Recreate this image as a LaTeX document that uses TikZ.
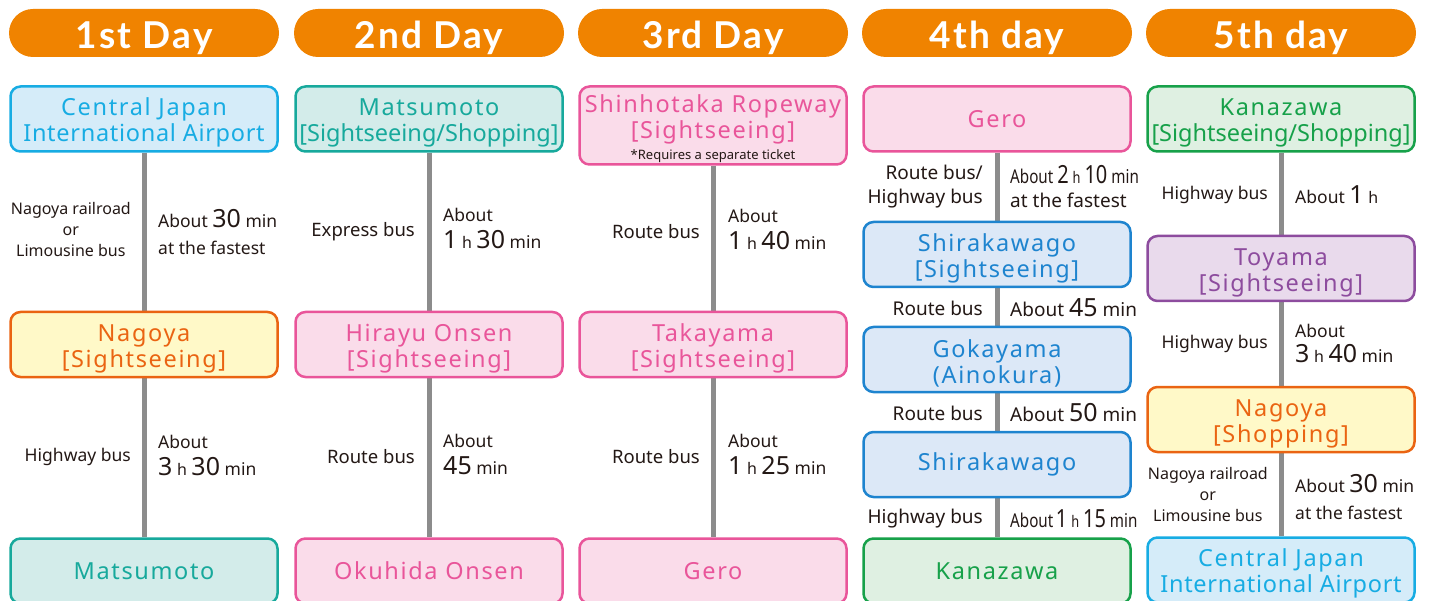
\documentclass[tikz,border=0pt]{standalone}
\usepackage{graphicx}
\usepackage{fontspec}
\setmainfont{Noto Sans}
\newfontfamily\boxf[LetterSpace=7]{Noto Sans}
\newfontfamily\boxm[LetterSpace=3]{Noto Sans}
\newfontfamily\boxn[LetterSpace=0]{Noto Sans}
\newfontfamily\headf[LetterSpace=6]{Lato}
\usetikzlibrary{backgrounds}
\definecolor{hdrc}{HTML}{F08300}
\definecolor{cyanB}{HTML}{17ACE3}\definecolor{cyanF}{HTML}{D5ECF9}
\definecolor{yelB}{HTML}{EA6412}\definecolor{yelF}{HTML}{FFF9C8}
\definecolor{tealB}{HTML}{17A99C}\definecolor{tealF}{HTML}{D3ECEA}
\definecolor{pinkB}{HTML}{E9559A}\definecolor{pinkF}{HTML}{FADCEA}
\definecolor{bluB}{HTML}{1E84CF}\definecolor{bluF}{HTML}{DCE8F7}
\definecolor{grnB}{HTML}{17A14A}\definecolor{grnF}{HTML}{DFF0E2}
\definecolor{purB}{HTML}{8D4C9E}\definecolor{purF}{HTML}{E9DAEC}
\definecolor{lineg}{HTML}{8C8C8C}
\definecolor{txt}{HTML}{231815}
\newcommand\bignum[1]{{\fontsize{25}{25}\selectfont #1}}
\newcommand\hunit{{\fontsize{16}{16}\selectfont h}}
\newcommand\sqz[1]{\scalebox{0.8}[1]{#1}}
\newcommand\bxs{\rule{0pt}{25pt}}
\tikzset{
  hdr/.style={fill=hdrc, rounded corners=24pt, minimum width=270pt, minimum height=48pt,
    text=white, font=\headf\bfseries\fontsize{37}{37}\selectfont, inner sep=0pt,
    text height=32pt, text depth=0pt},
  box/.style={rounded corners=10pt, line width=2.5pt, minimum width=267pt, minimum height=65pt,
    align=center, inner sep=0pt, font=\boxf\fontsize{23.5}{26}\selectfont},
  cyanbox/.style={box, draw=cyanB, fill=cyanF, text=cyanB},
  yelbox/.style={box, draw=yelB, fill=yelF, text=yelB},
  tealbox/.style={box, draw=tealB, fill=tealF, text=tealB},
  pinkbox/.style={box, draw=pinkB, fill=pinkF, text=pinkB},
  blubox/.style={box, draw=bluB, fill=bluF, text=bluB},
  grnbox/.style={box, draw=grnB, fill=grnF, text=grnB},
  purbox/.style={box, draw=purB, fill=purF, text=purB},
  conn/.style={line width=5pt, draw=lineg},
  lbl/.style={text=txt, inner sep=0pt, font=\fontsize{17.5}{27}\selectfont},
  lleft/.style={lbl, anchor=east, align=right},
  lright/.style={lbl, anchor=west, align=left},
  lmid/.style={font=\fontsize{18.5}{24}\selectfont},
  lbig/.style={font=\fontsize{19}{24}\selectfont},
  lsmall/.style={font=\fontsize{16}{21}\selectfont, align=center},
}
\begin{document}
\begin{tikzpicture}[x=1pt,y=-1pt]
\useasboundingbox (0,0) rectangle (1429,601);
\clip (0,0) rectangle (1429,601);
% headers
\node[hdr] (H1) at (144,33) {1st Day};
\node[hdr] (H2) at (429,33) {2nd Day};
\node[hdr] (H3) at (713,33) {3rd Day};
\node[hdr] (H4) at (997,33) {4th day};
\node[hdr] (H5) at (1281,33) {5th day};
% column 1
\node[cyanbox] (A1) at (144,119) {\bxs Central Japan\\{\boxm International Airport}};
\node[yelbox] (A2) at (144,344.5) {\bxs Nagoya\\{}[Sightseeing]};
\node[tealbox] (A3) at (144,571) {Matsumoto};
% column 2
\node[tealbox] (B1) at (429,119) {\bxs Matsumoto\\{\boxn [Sightseeing/Shopping]}};
\node[pinkbox] (B2) at (429,344.5) {\bxs Hirayu Onsen\\{}[Sightseeing]};
\node[pinkbox] (B3) at (429,571) {Okuhida Onsen};
% column 3
\node[pinkbox, minimum height=78pt] (C1) at (713,125.5) {\bxs Shinhotaka Ropeway\\{}[Sightseeing]\\[-5pt]{\rmfamily\color{txt}\fontsize{13}{14}\selectfont *Requires a separate ticket}};
\node[pinkbox] (C2) at (713,344.5) {\bxs Takayama\\{}[Sightseeing]};
\node[pinkbox] (C3) at (713,571) {Gero};
% column 4
\node[pinkbox] (D1) at (997,119) {Gero};
\node[blubox] (D2) at (997,254.5) {\bxs Shirakawago\\{}[Sightseeing]};
\node[blubox] (D3) at (997,359.5) {\bxs Gokayama\\(Ainokura)};
\node[blubox] (D4) at (997,464.5) {Shirakawago};
\node[grnbox] (D5) at (997,571) {Kanazawa};
% column 5
\node[grnbox] (E1) at (1281,119) {\bxs Kanazawa\\{\boxn [Sightseeing/Shopping]}};
\node[purbox] (E2) at (1281,268.5) {\bxs Toyama\\{}[Sightseeing]};
\node[yelbox] (E3) at (1281,419.5) {\bxs Nagoya\\{}[Shopping]};
\node[cyanbox] (E4) at (1281,570) {\bxs Central Japan\\{\boxm International Airport}};
% connectors
\begin{pgfonlayer}{background}
\draw[conn] (A1.south) -- (A2.north);
\draw[conn] (A2.south) -- (A3.north);
\draw[conn] (B1.south) -- (B2.north);
\draw[conn] (B2.south) -- (B3.north);
\draw[conn] (C1.south) -- (C2.north);
\draw[conn] (C2.south) -- (C3.north);
\draw[conn] (D1.south) -- (D2.north);
\draw[conn] (D2.south) -- (D3.north);
\draw[conn] (D3.south) -- (D4.north);
\draw[conn] (D4.south) -- (D5.north);
\draw[conn] (E1.south) -- (E2.north);
\draw[conn] (E2.south) -- (E3.north);
\draw[conn] (E3.south) -- (E4.north);
\end{pgfonlayer}
% labels column 1
\node[lleft, lsmall] (L1a) at (131,230) {Nagoya railroad\\or\\Limousine bus};
\node[lright] (R1a) at (158,232) {About \bignum{30} min\\at the fastest};
\node[lleft] (L1b) at (131,457) {Highway bus};
\node[lright] (R1b) at (158,455) {About\\\bignum{3} \hunit\ \bignum{30} min};
% labels column 2
\node[lleft, lmid] (L2a) at (415,232) {Express bus};
\node[lright] (R2a) at (443,228) {About\\\bignum{1} \hunit\ \bignum{30} min};
\node[lleft, lmid] (L2b) at (415,457) {Route bus};
\node[lright] (R2b) at (443,454) {About\\\bignum{45} min};
% labels column 3
\node[lleft, lmid] (L3a) at (700,232) {Route bus};
\node[lright] (R3a) at (728,229) {About\\\bignum{1} \hunit\ \bignum{40} min};
\node[lleft, lmid] (L3b) at (700,457) {Route bus};
\node[lright] (R3b) at (728,454) {About\\\bignum{1} \hunit\ \bignum{25} min};
% labels column 4
\node[lleft, lbig] (L4a) at (983,187) {Route bus/\\Highway bus};
\node[lright, lbig] (R4a) at (1010,187) {\sqz{About \bignum{2} \hunit\ \bignum{10} min}\\at the fastest};
\node[lleft, lbig] (L4b) at (983,308) {Route bus};
\node[lright, lbig] (R4b) at (1010,308) {About \bignum{45} min};
\node[lleft, lbig] (L4c) at (983,413) {Route bus};
\node[lright, lbig] (R4c) at (1010,413) {About \bignum{50} min};
\node[lleft, lbig] (L4d) at (983,519) {Highway bus};
\node[lright, lbig] (R4d) at (1010,519) {\sqz{About\,\bignum{1} \hunit\ \bignum{15} min}};
% labels column 5
\node[lleft] (L5a) at (1268,195) {Highway bus};
\node[lright] (R5a) at (1295,195) {About \bignum{1} \hunit};
\node[lleft] (L5b) at (1268,344) {Highway bus};
\node[lright, font=\fontsize{17.5}{25}\selectfont] (R5b) at (1295,343) {About\\\bignum{3} \hunit\ \bignum{40} min};
\node[lleft, lsmall] (L5c) at (1268,494) {Nagoya railroad\\or\\Limousine bus};
\node[lright] (R5c) at (1295,497) {About \bignum{30} min\\at the fastest};
\end{tikzpicture}
\end{document}
